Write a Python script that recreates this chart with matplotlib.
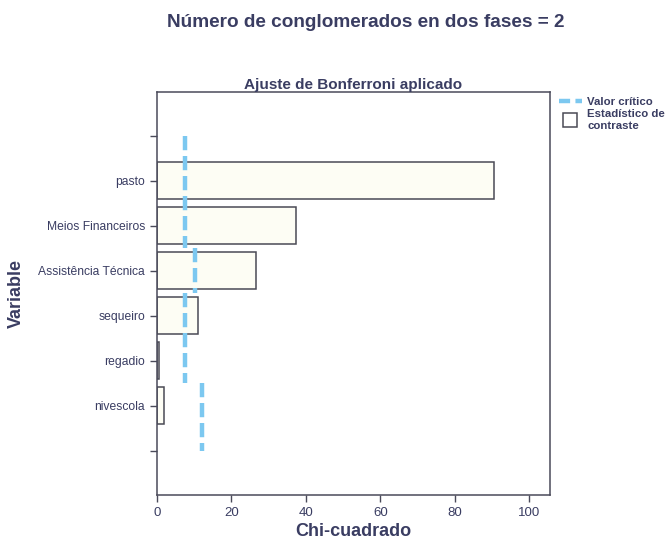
import matplotlib.pyplot as plt
from matplotlib.lines import Line2D

plt.rcParams['font.family'] = ['Liberation Sans', 'DejaVu Sans']

# categories from top to bottom; the blank slots pad the ends of the axis
variables = ["", "pasto", "Meios Financeiros", "Assistência Técnica",
             "sequeiro", "regadio", "nivescola", ""]
chi_square = [0, 90.4, 37.3, 26.5, 11.0, 0.5, 2.0, 0]
critical = [7.5, 7.5, 7.5, 10.2, 7.5, 7.5, 12.0, 12.0]
x_ticks = [0, 20, 40, 60, 80, 100]

text_col = "#3a3d62"
crit_col = "#7cc8f0"

fig = plt.figure(figsize=(6.68, 5.44), dpi=100)
ax = fig.add_axes([0.235, 0.09, 0.588, 0.741])

pos = list(range(len(variables)))
for p, v, name in zip(pos, chi_square, variables):
    if name:
        ax.barh(p, v, height=0.82, color="#fdfdf4", edgecolor="#4a4a55",
                linewidth=1.1, zorder=2)

# critical value drawn per variable band, joined where neighbours share a value
runs = []
for p, c in zip(pos, critical):
    lo = max(p - 0.5, pos[0])
    hi = min(p + 0.5, pos[-1])
    if runs and runs[-1][0] == c:
        runs[-1][2] = hi
    else:
        runs.append([c, lo, hi])
for c, lo, hi in runs:
    ax.plot([c, c], [lo, hi], color=crit_col, lw=3.2, dashes=(3.2, 1.3),
            solid_capstyle="butt", dash_capstyle="butt", zorder=3)

ax.set_xlim(0, 105.5)
ax.set_ylim(pos[-1] + 0.99, pos[0] - 0.97)
ax.set_yticks(pos)
ax.set_yticklabels(variables)
ax.set_xticks(x_ticks)

for s in ax.spines.values():
    s.set_color("#4a4a5a")
    s.set_linewidth(1.1)
ax.tick_params(colors="#4a4a5a", labelcolor=text_col, labelsize=9.5,
               length=5, width=1)
ax.tick_params(axis="y", labelsize=8.7)

ax.set_xlabel("Chi-cuadrado", fontsize=13, fontweight="bold",
              color=text_col, labelpad=3)
ax.set_ylabel("Variable", fontsize=13, fontweight="bold",
              color=text_col, labelpad=10)
ax.set_title("Ajuste de Bonferroni aplicado", fontsize=11,
             fontweight="bold", color=text_col, pad=2)
fig.text(0.547, 0.958, "Número de conglomerados en dos fases = 2",
         ha="center", va="center", fontsize=13.7, fontweight="bold",
         color=text_col)

handles = [
    Line2D([0], [0], color=crit_col, lw=3.2, dashes=(2.5, 1.2)),
    Line2D([0], [0], ls="none", marker="s", markersize=10,
           markerfacecolor="white", markeredgecolor="#4a4a55",
           markeredgewidth=1.1),
]
fig.legend(handles, ["Valor crítico", "Estadístico de\ncontraste"],
           loc="upper left", bbox_to_anchor=(0.83, 0.83), frameon=False,
           prop={"size": 8.2, "weight": "bold"}, labelcolor=text_col,
           handlelength=2.0, handletextpad=0.5, borderaxespad=0,
           labelspacing=0.2)

fig.savefig("out.png", dpi=100)
